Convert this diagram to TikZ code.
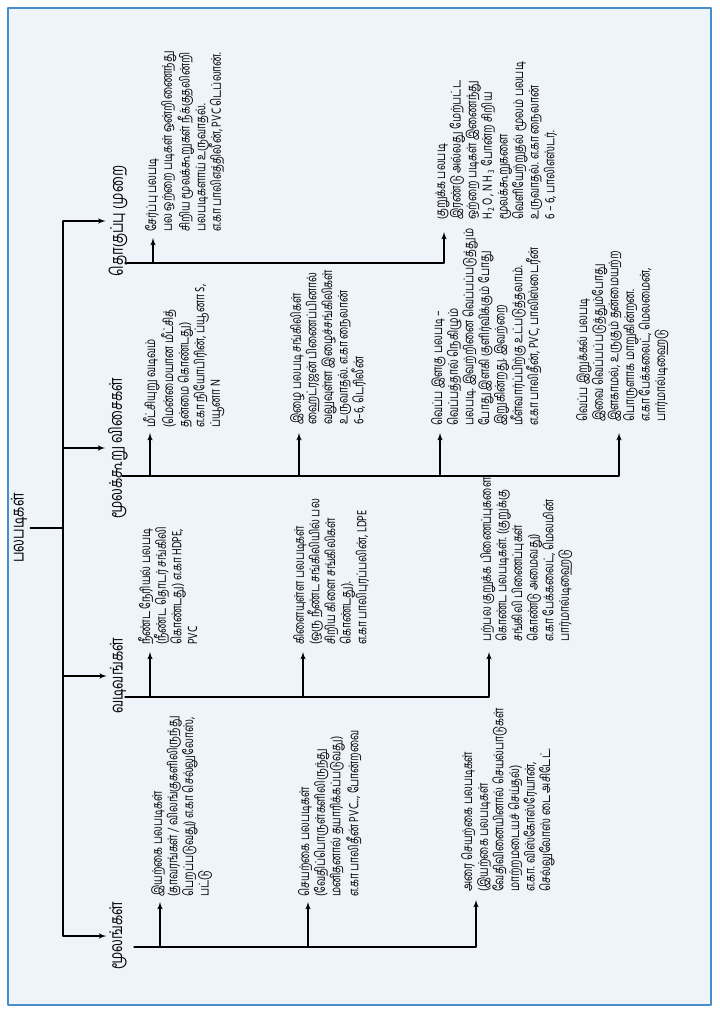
\documentclass[tikz,border=0pt]{standalone}
\usepackage{fontspec}
\setmainfont[Script=Tamil,FakeStretch=0.76]{Hind Madurai}
\usepackage{pgf,tikz}
\usetikzlibrary{arrows}
\definecolor{frameblue}{RGB}{72,142,204}
\definecolor{panelblue}{RGB}{239,244,251}

\begin{document}
\begin{tikzpicture}[line cap=round,line join=round,>=latex',x=1.0cm,y=1.0cm,
  cat/.style={rotate=90,inner sep=2pt,font=\fontsize{12.5}{14}\selectfont},
  leaf/.style={rotate=90,anchor=north west,align=left,inner sep=0pt,font=\fontsize{9.6}{11.1}\selectfont}]
\useasboundingbox (0,0) rectangle (17.975,-25.325);
\draw [line width=1pt,draw=frameblue,fill=panelblue] (0.2,-0.2) rectangle (17.775,-25.125);
% root and spine
\node [cat] (root) at (0.475,-13.2) {பலபடிகள்};
\coordinate (sp) at (1.575,-13.2);
\node [cat] (synth) at (2.95,-5.525) {தொகுப்பு முறை};
\node [cat] (mol) at (2.95,-11.2) {மூலக்கூறு விசைகள்};
\node [cat] (shape) at (2.95,-16.9) {வடிவங்கள்};
\node [cat] (source) at (2.95,-23.4) {மூலங்கள்};
\draw [line width=0.8pt] (root.south) -- (sp);
\draw [line width=0.8pt] (sp |- synth) -- (sp |- source);
\draw [line width=0.8pt,->] (sp |- synth) -- (synth.north);
\draw [line width=0.8pt,->] (sp |- mol) -- (mol.north);
\draw [line width=0.8pt,->] (sp |- shape) -- (shape.north);
\draw [line width=0.8pt,->] (sp |- source) -- (source.north);
% sources
\coordinate (srcbar) at (3.35,-23.675);
\coordinate (s1tip) at (4.0,-22.55);
\coordinate (s2tip) at (7.7,-22.55);
\coordinate (s3tip) at (11.9,-22.5);
\node [leaf] (s1) at (3.775,-22.425) {இயற்கை பலபடிகள்\\(தாவரங்கள் / விலங்குகளிலிருந்து\\பெறப்படுவது) எ.கா செல்லுலோஸ்,\\பட்டு};
\node [leaf] (s2) at (7.45,-22.425) {செயற்கை பலபடிகள்\\(வேதிப்பொருள்களிலிருந்து\\மனிதனால் தயாரிக்கப்படுவது)\\எ.கா பாலிதீன் PVC..., போன்றவை};
\node [leaf] (s3) at (11.525,-22.3) {அரை செயற்கை பலபடிகள்\\(இயற்கை பலபடிகள்\\வேதிவினையினால் செயல்பாடுகள்\\மாற்றமடையச் செய்தல்)\\எ.கா. விஸ்கோஸ்ரேயான்,\\செல்லுலோஸ் டை அசிடேட்.};
\draw [line width=0.8pt,->] (srcbar) -| (s3tip);
\draw [line width=0.8pt,->] (srcbar -| s1tip) -- (s1tip);
\draw [line width=0.8pt,->] (srcbar -| s2tip) -- (s2tip);
% shapes
\coordinate (shpbar) at (3.125,-17.425);
\coordinate (t1tip) at (3.75,-16.3);
\coordinate (t2tip) at (7.575,-16.3);
\coordinate (t3tip) at (12.225,-16.3);
\node [leaf] (t1) at (3.45,-16.125) {நீண்ட நேரியல் பலபடி\\(நீண்ட தொடர் சங்கிலி\\கொண்டது) எ.கா HDPE,\\PVC};
\node [leaf] (t2) at (7.325,-16.125) {கிளையுள்ள பலபடிகள்\\(ஒரு நீண்ட சங்கிலியில் பல\\சிறிய கிளை சங்கிலிகள்\\கொண்டது).\\எ.கா பாலிபுரப்பலின், LDPE};
\node [leaf] (t3) at (12.0,-16.05) {பற்பல குறுக்க பிணைப்புகளை\\கொண்ட பலபடிகள். (குறுக்கு\\சங்கிலி பிணைப்புகள்\\கொண்டு அமைவது)\\எ.கா பேக்கலைட், மெலமின்\\பார்மால்டிஹைடு};
\draw [line width=0.8pt,->] (shpbar) -| (t3tip);
\draw [line width=0.8pt,->] (shpbar -| t1tip) -- (t1tip);
\draw [line width=0.8pt,->] (shpbar -| t2tip) -- (t2tip);
% molecular forces
\coordinate (molbar) at (3.05,-11.9);
\coordinate (m1tip) at (3.75,-10.825);
\coordinate (m2tip) at (7.475,-10.825);
\coordinate (m3tip) at (11.0,-10.825);
\coordinate (m4tip) at (15.475,-10.825);
\node [leaf] (m1) at (3.575,-10.7) {மீட்சியுறு வடிவம்\\(மென்மையான மீட்சித்\\தன்மை கொண்டது)\\எ.கா நியோபிரின், ப்யூனா S,\\ப்யூனா N};
\node [leaf] (m2) at (7.25,-10.625) {இழை பலபடி சங்கிலிகள்\\ஹைட்ரஜன் பிணைப்பினால்\\வலுவுள்ள இழைச்சங்கிலிகள்\\உருவாதல். எ.கா நைலான்\\6–6, டெரிலீன்};
\node [leaf] (m3) at (10.775,-10.65) {வெப்ப இளகு பலபடி –\\வெப்பத்தால் நெகிழும்\\பலபடி. இவற்றினை வெப்பப்படுத்தும்\\போது இளகி குளிர்விக்கும் போது\\இறுகின்றது. இவற்றை\\மீள்வார்ப்பிற்கு உட்படுத்தலாம்.\\எ.கா பாலிதீன், PVC, பாலிஸ்டைரீன்};
\node [leaf] (m4) at (14.4,-10.55) {வெப்ப இறுக்கல் பலபடி\\இவை வெப்பப்படுத்தும்போது\\இளகாமல், உருகும் தன்மையற்ற\\பொருளாக மாறுகின்றன.\\எ.கா பேக்கலைட், மெலமைன்,\\பார்மால்டிஹைடு};
\draw [line width=0.8pt,->] (molbar) -| (m4tip);
\draw [line width=0.8pt,->] (molbar -| m1tip) -- (m1tip);
\draw [line width=0.8pt,->] (molbar -| m2tip) -- (m2tip);
\draw [line width=0.8pt,->] (molbar -| m3tip) -- (m3tip);
% synthesis
\coordinate (synbar) at (3.125,-6.575);
\coordinate (y1tip) at (3.825,-5.95);
\coordinate (y2tip) at (11.1,-5.8);
\node [leaf] (y1) at (3.625,-5.8) {சேர்ப்பு பலபடி\\பல ஒற்றை படிகள் ஒன்றிணைந்து\\சிறிய மூலக்கூறுகள் நீக்குதலின்றி\\பலபடிகளாய் உருவாதல்.\\எ.கா பாலிஎத்திலீன், PVC டெப்லான்.};
\node [leaf] (y2) at (10.875,-5.5) {குறுக்க பலபடி\\இரண்டு அல்லது மேற்பட்ட\\ஒற்றை படிகள் இணைந்து\\$\mathrm{H_2O}$, $\mathrm{NH_3}$ போன்ற சிறிய\\மூலக்கூறுகளை\\வெளியேற்றுதல் மூலம் பலபடி\\உருவாதல். எ.கா நைலான்\\6 – 6, பாலிஎஸ்டர்.};
\draw [line width=0.8pt,->] (synbar) -| (y2tip);
\draw [line width=0.8pt,->] (synbar -| y1tip) -- (y1tip);
\end{tikzpicture}
\end{document}
